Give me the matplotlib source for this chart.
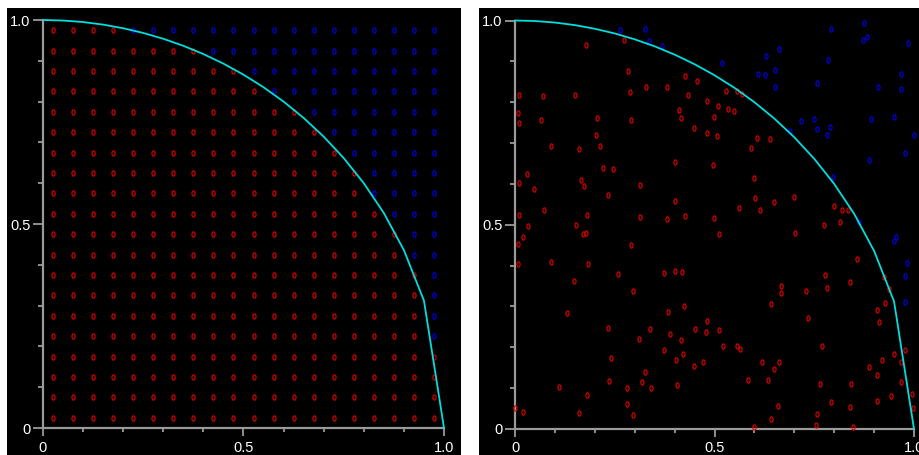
import numpy as np
import matplotlib
matplotlib.use("Agg")
import matplotlib.pyplot as plt
from matplotlib.path import Path
from matplotlib.patches import Rectangle

# ---------------- data ----------------
grid_vals = [0.025, 0.075, 0.125, 0.175, 0.225, 0.275, 0.325, 0.375, 0.425, 0.475,
             0.525, 0.575, 0.625, 0.675, 0.725, 0.775, 0.825, 0.875, 0.925, 0.975]

mc_red = [(0.272,0.952),(0.179,0.941),(0.282,0.876),(0.425,0.865),(0.457,0.853),(0.287,0.826),
          (0.329,0.836),(0.381,0.836),(0.434,0.818),(0.482,0.804),(0.011,0.818),(0.071,0.814),
          (0.150,0.818),(0.007,0.773),(0.011,0.748),(0.066,0.756),(0.206,0.761),(0.290,0.756),
          (0.410,0.781),(0.415,0.761),(0.449,0.737),(0.482,0.725),(0.499,0.763),(0.204,0.719),
          (0.091,0.694),(0.161,0.686),(0.214,0.694),(0.400,0.654),(0.497,0.647),(0.031,0.625),
          (0.221,0.640),(0.246,0.637),(0.009,0.601),(0.048,0.587),(0.166,0.609),(0.174,0.594),
          (0.314,0.597),(0.233,0.573),(0.400,0.558),(0.011,0.525),(0.073,0.536),(0.181,0.525),
          (0.314,0.520),(0.381,0.513),(0.425,0.522),(0.499,0.517),
          (0.033,0.497),(0.154,0.500),(0.021,0.471),(0.171,0.478),(0.179,0.481),(0.007,0.454),
          (0.290,0.451),(0.007,0.405),(0.091,0.410),(0.184,0.403),(0.258,0.379),(0.374,0.381),
          (0.400,0.386),(0.418,0.384),(0.147,0.362),(0.295,0.338),(0.423,0.301),(0.130,0.284),
          (0.383,0.286),(0.482,0.265),(0.233,0.248),(0.339,0.246),(0.452,0.246),(0.479,0.238),
          (0.388,0.233),(0.312,0.220),(0.415,0.217),(0.374,0.193),(0.420,0.183),(0.241,0.173),
          (0.403,0.169),(0.449,0.154),(0.472,0.164),(0.327,0.140),(0.236,0.118),(0.319,0.114),
          (0.342,0.101),(0.280,0.101),(0.406,0.108),(0.110,0.104),(0.181,0.084),(0.000,0.052),
          (0.021,0.042),(0.161,0.040),(0.280,0.062),(0.295,0.035),
          (0.529,0.828),(0.556,0.828),(0.568,0.821),(0.510,0.790),(0.534,0.783),(0.549,0.778),
          (0.507,0.717),(0.607,0.713),(0.640,0.710),(0.592,0.689),(0.600,0.615),(0.602,0.565),
          (0.650,0.556),(0.698,0.567),(0.561,0.541),(0.613,0.536),(0.800,0.546),(0.820,0.536),
          (0.834,0.536),
          (0.775,0.500),(0.815,0.507),(0.512,0.478),(0.701,0.481),(0.858,0.417),(0.778,0.376),
          (0.839,0.359),(0.926,0.371),(0.938,0.342),(0.927,0.309),(0.667,0.350),(0.667,0.333),
          (0.729,0.338),(0.783,0.345),(0.642,0.306),(0.908,0.291),(0.913,0.263),(0.735,0.272),
          (0.512,0.242),(0.521,0.203),(0.556,0.203),(0.563,0.195),(0.770,0.203),(0.977,0.193),
          (0.950,0.183),(0.968,0.164),(0.921,0.169),(0.888,0.152),(0.620,0.164),(0.662,0.164),
          (0.650,0.147),(0.583,0.120),(0.635,0.120),(0.765,0.110),(0.841,0.110),(0.908,0.132),
          (0.968,0.115),(0.943,0.080),(0.996,0.085),(0.998,0.052),(0.908,0.069),(0.793,0.065),
          (0.839,0.054),(0.658,0.057),(0.758,0.037),(0.642,0.024),(0.755,0.011),(0.600,0.004),
          (0.846,0.004)]

mc_blue = [(0.262,0.977),(0.327,0.979),(0.337,0.950),(0.368,0.938),
           (0.793,0.979),(0.875,0.994),(0.873,0.952),(0.883,0.960),(0.984,0.945),(0.662,0.930),
           (0.630,0.914),(0.519,0.897),(0.785,0.903),(0.610,0.869),(0.627,0.867),(0.652,0.879),
           (0.652,0.836),(0.758,0.848),(0.911,0.838),(0.968,0.870),(0.968,0.833),(0.718,0.754),
           (0.750,0.759),(0.758,0.735),(0.790,0.739),(0.783,0.719),(0.891,0.760),(0.950,0.763),
           (0.999,0.719),(0.977,0.676),(0.886,0.659),(0.690,0.729),(0.797,0.616),(0.862,0.507),
           (0.955,0.470),(0.950,0.460),(0.982,0.407),(0.977,0.374),(0.977,0.311)]

curve_step = 0.05
x_ticklabels = ["0", "0.5", "1.0"]
y_ticklabels = ["0", "0.5", "1.0"]

# ---------------- style ----------------
RED = "#dc0000"
BLUE = "#0000e0"
CYAN = "#00dede"
GRAY = "#9a9a9a"

plt.rcParams['font.family'] = ['Liberation Sans', 'DejaVu Sans']

fig = plt.figure(figsize=(9.2, 4.55), dpi=100, facecolor="white")
W, H = 920.0, 455.0

def px_rect(x0, y0, x1, y1):
    return Rectangle((x0 / W, 1 - y1 / H), (x1 - x0) / W, (y1 - y0) / H,
                     transform=fig.transFigure, facecolor="black", edgecolor="none", zorder=-10)

fig.patches.append(px_rect(7, 8, 461, 455))
fig.patches.append(px_rect(479, 8, 920, 455))

t = np.linspace(0, 2 * np.pi, 25)
ell = Path(np.column_stack([0.6 * np.cos(t), np.sin(t)]))

def make_axes(x0, x1, y_top, y_bot):
    ax = fig.add_axes([x0 / W, 1 - y_bot / H, (x1 - x0) / W, (y_bot - y_top) / H])
    ax.set_facecolor("none")
    ax.set_xlim(0, 1)
    ax.set_ylim(0, 1)
    for s in ("top", "right"):
        ax.spines[s].set_visible(False)
    for s in ("left", "bottom"):
        ax.spines[s].set_color(GRAY)
        ax.spines[s].set_linewidth(1.6)
        ax.spines[s].set_zorder(1)
    ax.set_xticks([0, 0.5, 1.0])
    ax.set_xticklabels(x_ticklabels)
    ax.set_yticks([0, 0.5, 1.0])
    ax.set_yticklabels(y_ticklabels)
    ax.set_xticks(np.arange(1, 10) / 10, minor=True)
    ax.set_yticks(np.arange(1, 10) / 10, minor=True)
    ax.tick_params(axis="x", which="major", length=6, width=1.3, color=GRAY,
                   labelcolor="white", labelsize=10.5, pad=3, direction="out")
    ax.tick_params(axis="x", which="minor", length=3, width=1.3, color=GRAY, direction="out")
    ax.tick_params(axis="y", which="major", length=7.5, width=1.3, color=GRAY,
                   labelcolor="white", labelsize=10.5, pad=1.5, direction="out")
    ax.tick_params(axis="y", which="minor", length=3.5, width=1.3, color=GRAY, direction="out")
    return ax

def draw_curve(ax):
    cx = np.arange(0, 1 + curve_step / 2, curve_step)
    cy = np.sqrt(np.clip(1 - cx ** 2, 0, None))
    ax.plot(cx, cy, color=CYAN, lw=1.3, zorder=5, clip_on=False)

def pts(ax, xs, ys, color):
    ax.plot(xs, ys, linestyle="none", marker=ell, markersize=3.8, mfc="none",
            mec=color, mew=0.85, zorder=3, clip_on=False)

# left panel: regular grid
axL = make_axes(43, 444, 20, 428)
gx, gy = np.meshgrid(np.array(grid_vals), np.array(grid_vals))
gx = gx.ravel(); gy = gy.ravel()
inside = gx ** 2 + gy ** 2 <= 1
pts(axL, gx[inside], gy[inside], RED)
pts(axL, gx[~inside], gy[~inside], BLUE)
draw_curve(axL)

# right panel: random samples
axR = make_axes(515, 914, 20.5, 429)
rx, ry = zip(*mc_red)
bx, by = zip(*mc_blue)
pts(axR, rx, ry, RED)
pts(axR, bx, by, BLUE)
draw_curve(axR)

fig.savefig("out.png", dpi=100, facecolor="white")
